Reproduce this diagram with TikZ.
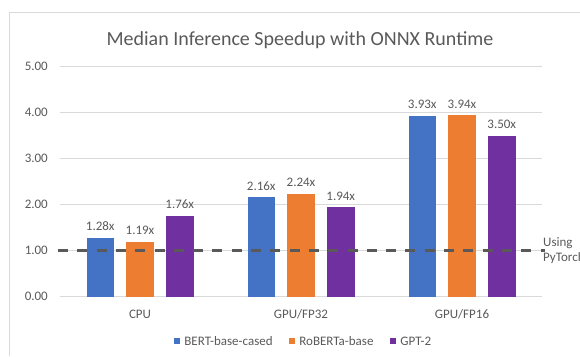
\documentclass[tikz,border=0pt]{standalone}
\usepackage{fontspec}
\setmainfont{Carlito}
\usetikzlibrary{positioning}

\definecolor{bertblue}{HTML}{4472C4}
\definecolor{robertaorange}{HTML}{ED7D31}
\definecolor{gptpurple}{HTML}{7030A0}
\definecolor{gridgray}{HTML}{D9D9D9}
\definecolor{textgray}{HTML}{595959}

\tikzset{
  frame line/.style={draw=gridgray, line width=0.8pt},
  grid line/.style={draw=gridgray, line width=0.8pt},
  small text/.style={text=textgray, font=\fontsize{13}{15}\selectfont, inner sep=0pt},
  tick label/.style={small text, anchor=east},
  val label/.style={small text, above=7pt},
  cat label/.style={small text},
  bar/.style={draw=none},
  pytorch line/.style={draw=textgray, line width=2.8pt, dash pattern=on 10pt off 9.3pt},
  key/.style={minimum size=6pt, inner sep=0pt},
}

\begin{document}
\begin{tikzpicture}[x=1pt, y=1pt]
    \useasboundingbox (0,0) rectangle (580,356);
    % chart frame
    \draw[frame line] (9,0) -- (9,344) -- (580,344);
    \node[text=textgray, font=\fontsize{20}{24}\selectfont] (title) at (300,316)
      {Median Inference Speedup with ONNX Runtime};
    \begin{scope}[shift={(0,59.3)}, y=46pt]
      % grid and axis
      \draw[grid line] (60,0) -- (542,0);
      \draw[grid line] (60,1) -- (542,1);
      \draw[grid line] (60,2) -- (542,2);
      \draw[grid line] (60,3) -- (542,3);
      \draw[grid line] (60,4) -- (542,4);
      \draw[grid line] (60,5) -- (542,5);
      \node[tick label] (t0) at (48,0) {0.00};
      \node[tick label] (t1) at (48,1) {1.00};
      \node[tick label] (t2) at (48,2) {2.00};
      \node[tick label] (t3) at (48,3) {3.00};
      \node[tick label] (t4) at (48,4) {4.00};
      \node[tick label] (t5) at (48,5) {5.00};
      \begin{scope}[xshift=140pt]
        \fill[bar, bertblue] (-53.5,0) rectangle (-26,1.28);
        \fill[bar, robertaorange] (-13.75,0) rectangle (13.75,1.19);
        \fill[bar, gptpurple] (26,0) rectangle (53.5,1.76);
        \node[val label] (cpubert) at (-39.75,1.28) {1.28x};
        \node[val label] (cpuroberta) at (0,1.19) {1.19x};
        \node[val label] (cpugpt) at (39.75,1.76) {1.76x};
        \node[cat label] (cpu) at (0,-0.376) {CPU};
      \end{scope}
      \begin{scope}[xshift=301pt]
        \fill[bar, bertblue] (-53.5,0) rectangle (-26,2.16);
        \fill[bar, robertaorange] (-13.75,0) rectangle (13.75,2.24);
        \fill[bar, gptpurple] (26,0) rectangle (53.5,1.94);
        \node[val label] (fp32bert) at (-39.75,2.16) {2.16x};
        \node[val label] (fp32roberta) at (0,2.24) {2.24x};
        \node[val label] (fp32gpt) at (39.75,1.94) {1.94x};
        \node[cat label] (fp32) at (0,-0.376) {GPU/FP32};
      \end{scope}
      \begin{scope}[xshift=462pt]
        \fill[bar, bertblue] (-53.5,0) rectangle (-26,3.93);
        \fill[bar, robertaorange] (-13.75,0) rectangle (13.75,3.94);
        \fill[bar, gptpurple] (26,0) rectangle (53.5,3.50);
        \node[val label] (fp16bert) at (-39.75,3.93) {3.93x};
        \node[val label] (fp16roberta) at (0,3.94) {3.94x};
        \node[val label] (fp16gpt) at (39.75,3.50) {3.50x};
        \node[cat label] (fp16) at (0,-0.376) {GPU/FP16};
      \end{scope}
      % baseline
      \coordinate (basestart) at (58,1);
      \node[small text, anchor=west, align=left] (pytorch) at (543,1) {Using\\PyTorch};
      \draw[pytorch line] (basestart) -- ([xshift=2pt]pytorch.west);
    \end{scope}
    % legend
    \node[key, fill=bertblue] (bertkey) at (177,15) {};
    \node[small text, right=4pt of bertkey] (berttext) {BERT-base-cased};
    \node[key, fill=robertaorange] (robertakey) at (292,15) {};
    \node[small text, right=4pt of robertakey] (robertatext) {RoBERTa-base};
    \node[key, fill=gptpurple] (gptkey) at (393,15) {};
    \node[small text, right=4pt of gptkey] (gpttext) {GPT-2};
\end{tikzpicture}
\end{document}
